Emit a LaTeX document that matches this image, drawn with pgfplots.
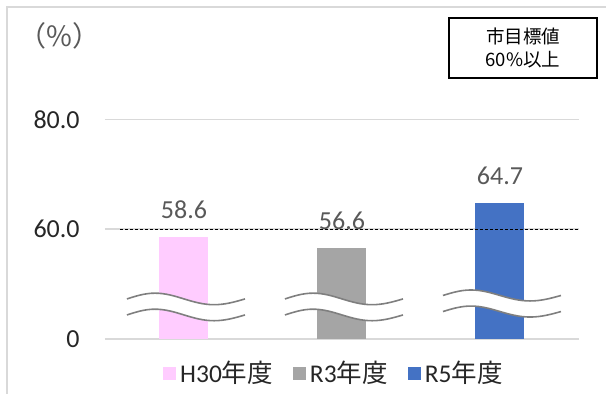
\documentclass[border=0pt]{standalone}
\usepackage{fontspec}
\setmainfont{Carlito}
\newfontfamily\jp{Noto Sans CJK JP}
\usepackage{pgfplots}
\pgfplotsset{compat=1.18}

\definecolor{barpink}{HTML}{FFCCFF}
\definecolor{bargray}{HTML}{A5A5A5}
\definecolor{barblue}{HTML}{4472C4}
\definecolor{gridgray}{HTML}{D9D9D9}
\definecolor{labelgray}{HTML}{595959}
\definecolor{textdark}{HTML}{262626}
\definecolor{wavegray}{HTML}{7F7F7F}

% wavy break mark: #1..#5 x positions, #6 top mid, #7 bottom mid, #8 amplitude
\newcommand{\wavebreak}[8]{%
  \fill[white] (axis cs:#1,#6) sin (axis cs:#2,#6+#8) cos (axis cs:#3,#6)
     sin (axis cs:#4,#6-#8) cos (axis cs:#5,#6) -- (axis cs:#5,#7)
     sin (axis cs:#4,#7-#8) cos (axis cs:#3,#7) sin (axis cs:#2,#7+#8)
     cos (axis cs:#1,#7) -- cycle;
  \draw[wavegray, line width=0.8pt] (axis cs:#1,#6) sin (axis cs:#2,#6+#8)
     cos (axis cs:#3,#6) sin (axis cs:#4,#6-#8) cos (axis cs:#5,#6);
  \draw[wavegray, line width=0.8pt] (axis cs:#1,#7) sin (axis cs:#2,#7+#8)
     cos (axis cs:#3,#7) sin (axis cs:#4,#7-#8) cos (axis cs:#5,#7);
}

\begin{document}
\begin{tikzpicture}
\useasboundingbox (0pt,0pt) rectangle (303pt,197pt);
% chart frame
\draw[gridgray, line width=0.75pt] (3.5pt,0pt) -- (3.5pt,193.5pt) -- (303pt,193.5pt);

% unit
\node[anchor=west, inner sep=0pt, text=labelgray, font=\jp\fontsize{14}{16}\selectfont]
  at (9pt,179pt) {（\%）};

% target box
\draw[black, line width=0.9pt] (224.5pt,158pt) rectangle (298.5pt,188pt);
\node[align=center, inner sep=0pt, text=black, font=\jp\fontsize{9.25}{11.5}\selectfont]
  at (261.5pt,173pt) {市目標値\\60\%以上};

\begin{axis}[
  at={(52.5pt,27.5pt)}, anchor=south west,
  scale only axis, width=237pt, height=109.75pt,
  xmin=-0.5, xmax=2.5, ymin=40, ymax=80,
  axis line style={draw=none},
  major tick style={draw=none},
  xtick=\empty,
  ytick={40,60,80},
  yticklabels={0,60.0,80.0},
  /pgf/number format/assume math mode=true,
  yticklabel style={anchor=east, inner sep=0pt, xshift=-12.5pt,
    text=textdark, font=\fontsize{13}{15}\selectfont},
  ymajorgrids,
  grid style={gridgray, line width=0.75pt},
  ybar, bar width=24.5pt, bar shift=0pt,
  nodes near coords,
  every node near coord/.append style={anchor=south, inner sep=0pt, yshift=9pt,
    text=labelgray, font=\fontsize{13}{15}\selectfont,
    /pgf/number format/fixed, /pgf/number format/fixed zerofill,
    /pgf/number format/precision=1},
  legend columns=3,
  legend style={draw=none, fill=none, at={(0.485,-0.155)}, anchor=center,
    font=\fontsize{12.75}{15}\selectfont, text=textdark,
    /tikz/every even column/.append style={column sep=8pt}},
  legend image code/.code={\fill[#1] (0pt,-3.25pt) rectangle (6.5pt,3.25pt);},
]
\addplot[fill=barpink, draw=none] coordinates {(0,58.6)};
\addlegendentry{H30{\jp 年度}}
\addplot[fill=bargray, draw=none] coordinates {(1,56.6)};
\addlegendentry{R3{\jp 年度}}
\addplot[fill=barblue, draw=none] coordinates {(2,64.7)};
\addlegendentry{R5{\jp 年度}}

\wavebreak{-0.361}{-0.184}{0}{0.190}{0.386}{47.3}{44.38}{1.05}
\wavebreak{0.639}{0.816}{1}{1.190}{1.386}{47.3}{44.38}{1.05}
\wavebreak{1.639}{1.816}{2}{2.190}{2.386}{47.93}{45.0}{1.0}

% target level
\draw[black, line width=0.5pt, dash pattern=on 1.5pt off 1pt]
  (axis cs:-0.405,60) -- (axis cs:2.5,60);
\end{axis}
\end{tikzpicture}
\end{document}
